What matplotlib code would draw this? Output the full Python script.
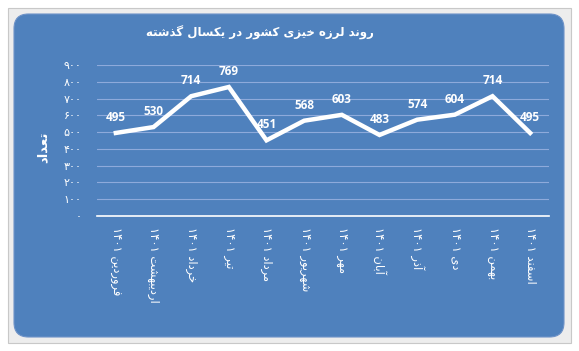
import matplotlib.pyplot as plt
from matplotlib.patches import FancyBboxPatch, Rectangle

# data
months = ["فروردین", "اردیبهشت", "خرداد", "تیر", "مرداد", "شهریور",
          "مهر", "آبان", "آذر", "دی", "بهمن", "اسفند"]
year = "۱۴۰۱"
values = [495, 530, 714, 769, 451, 568, 603, 483, 574, 604, 714, 495]
yticks = [0, 100, 200, 300, 400, 500, 600, 700, 800, 900]
title = "روند لرزه خیزی کشور در یکسال گذشته"
ylabel = "تعداد"

# simple arabic shaping (isolated, final, initial, medial)
FORMS = {
    "ا": (0xFE8D, 0xFE8E, None, None),
    "آ": (0xFE81, 0xFE82, None, None),
    "ب": (0xFE8F, 0xFE90, 0xFE91, 0xFE92),
    "ت": (0xFE95, 0xFE96, 0xFE97, 0xFE98),
    "خ": (0xFEA5, 0xFEA6, 0xFEA7, 0xFEA8),
    "د": (0xFEA9, 0xFEAA, None, None),
    "ذ": (0xFEAB, 0xFEAC, None, None),
    "ر": (0xFEAD, 0xFEAE, None, None),
    "ز": (0xFEAF, 0xFEB0, None, None),
    "س": (0xFEB1, 0xFEB2, 0xFEB3, 0xFEB4),
    "ش": (0xFEB5, 0xFEB6, 0xFEB7, 0xFEB8),
    "ع": (0xFEC9, 0xFECA, 0xFECB, 0xFECC),
    "ف": (0xFED1, 0xFED2, 0xFED3, 0xFED4),
    "ل": (0xFEDD, 0xFEDE, 0xFEDF, 0xFEE0),
    "م": (0xFEE1, 0xFEE2, 0xFEE3, 0xFEE4),
    "ن": (0xFEE5, 0xFEE6, 0xFEE7, 0xFEE8),
    "ه": (0xFEE9, 0xFEEA, 0xFEEB, 0xFEEC),
    "و": (0xFEED, 0xFEEE, None, None),
    "ی": (0xFBFC, 0xFBFD, 0xFBFE, 0xFBFF),
    "ک": (0xFB8E, 0xFB8F, 0xFB90, 0xFB91),
    "گ": (0xFB92, 0xFB93, 0xFB94, 0xFB95),
}


def shape_word(w):
    out = []
    chars = list(w)
    n = len(chars)
    i = 0
    while i < n:
        c = chars[i]
        prev = chars[i - 1] if i > 0 else None
        joins_prev = prev in FORMS and FORMS[prev][2] is not None
        # lam-alef ligature
        if c == "ل" and i + 1 < n and chars[i + 1] == "ا":
            out.append(chr(0xFEFC if joins_prev else 0xFEFB))
            i += 2
            continue
        if c not in FORMS:
            out.append(c)
            i += 1
            continue
        nxt = chars[i + 1] if i + 1 < n else None
        joins_next = FORMS[c][2] is not None and nxt in FORMS
        f = FORMS[c]
        if joins_prev and joins_next:
            out.append(chr(f[3]))
        elif joins_prev:
            out.append(chr(f[1]))
        elif joins_next:
            out.append(chr(f[2]))
        else:
            out.append(chr(f[0]))
        i += 1
    return "".join(reversed(out))


def rtl(s):
    words = s.split(" ")
    res = []
    for w in reversed(words):
        if all(ch in "۰۱۲۳۴۵۶۷۸۹0123456789" for ch in w):
            res.append(w)
        else:
            res.append(shape_word(w))
    return " ".join(res)


def fa_digits(n):
    return str(n).translate(str.maketrans("0123456789", "۰۱۲۳۴۵۶۷۸۹"))


blue = "#4F81BD"
W, H = 579, 351
fig = plt.figure(figsize=(W / 100, H / 100), dpi=100)
fig.patch.set_facecolor("white")

# frame + rounded blue background
frame = Rectangle((8 / W, 8 / H), 563 / W, 335 / H, transform=fig.transFigure,
                  facecolor="#EDEDED", edgecolor="#C8C8C8", lw=0.8, zorder=-10)
bg = FancyBboxPatch((14 / W, 14 / H), 550 / W, 323 / H,
                    boxstyle="round,pad=0,rounding_size=0.025",
                    transform=fig.transFigure, facecolor=blue,
                    edgecolor="#6F93C8", lw=0.8, mutation_aspect=W / H, zorder=-9)
fig.patches.extend([frame, bg])

ax = fig.add_axes([97 / W, 135 / H, 452 / W, 151 / H])
ax.set_facecolor("none")
x = list(range(len(values)))
ax.plot(x, values, color="white", lw=3.2, solid_joinstyle="miter", zorder=3)
for xi, v in zip(x, values):
    ax.annotate(str(v), (xi, v), xytext=(0, 6.5), textcoords="offset points",
                ha="center", va="bottom", color="white", fontsize=8.5,
                fontweight="bold", family="Open Sans")

ax.set_xlim(-0.5, len(values) - 0.5)
ax.set_ylim(0, 900)
ax.set_yticks(yticks)
ax.set_yticklabels([fa_digits(t) for t in yticks], color="white", fontsize=8, family="DejaVu Sans")
ax.set_xticks(x)
ax.set_xticklabels([rtl(m + " " + year) for m in months], rotation=270, va="top", ha="center",
                   color="white", fontsize=8.3, family="DejaVu Sans")
ax.tick_params(axis="y", length=0, pad=11)
ax.tick_params(axis="x", length=0, pad=8)
ax.grid(axis="y", color="#8EAADB", lw=0.8)
ax.set_axisbelow(True)
for s in ["top", "right", "left"]:
    ax.spines[s].set_visible(False)
ax.spines["bottom"].set_color("white")
ax.spines["bottom"].set_linewidth(1.2)

fig.text(260 / W, 1 - 33 / H, rtl(title), ha="center", va="center", color="white",
         fontsize=8.5, fontweight="bold", family="DejaVu Sans")
fig.text(43 / W, 1 - 147 / H, rtl(ylabel), ha="center", va="center", color="white",
         fontsize=9.5, fontweight="bold", rotation=90, family="DejaVu Sans")

fig.savefig("out.png", dpi=100, facecolor=fig.get_facecolor())
